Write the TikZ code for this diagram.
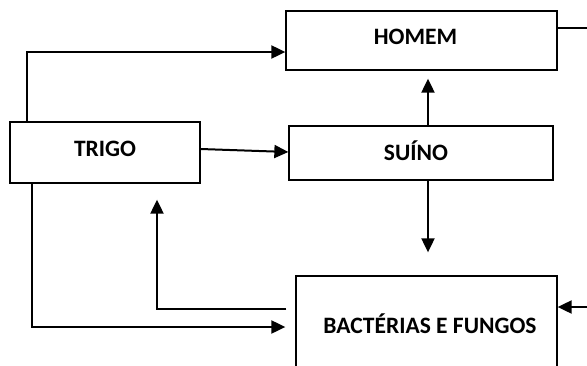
\documentclass[tikz,border=0pt]{standalone}
\usepackage{fontspec}
\setmainfont{Carlito}
\usetikzlibrary{arrows.meta}
\tikzset{
  box/.style={draw=black, line width=1.3pt, fill=white, inner sep=0pt, text height=15pt, text depth=0pt, font=\bfseries\fontsize{23.5}{28}\selectfont},
  conn/.style={line width=2pt},
  arr/.style={conn, -{Triangle[length=14pt,width=13pt]}}
}
\begin{document}
\begin{tikzpicture}[x=1pt,y=-1pt]
\clip (0,0) rectangle (587,365);
\fill[white] (0,0) rectangle (587,365);
\node[box, minimum width=271, minimum height=59] (homem) at (421.5,40.5) {\raisebox{3.5pt}{HOMEM}\hspace*{12pt}};
\node[box, minimum width=264, minimum height=54] (suino) at (421,153) {SUÍNO\hspace*{10pt}};
\node[box, minimum width=190, minimum height=61] (trigo) at (105,152.5) {\raisebox{4pt}{TRIGO}};
\node[box, minimum width=261, minimum height=98] (bact) at (426.5,325) {\hspace*{7pt}\raisebox{-1pt}{BACTÉRIAS E FUNGOS}};
\coordinate (rtop) at (590,28);
\coordinate (rbot) at (590,307);
\draw[arr] ([xshift=18]trigo.north west) |- ([yshift=-11.5]homem.west);
\draw[arr] ([yshift=3.5]trigo.east) -- ([yshift=1]suino.west);
\draw[arr, shorten >=8pt] ([xshift=7]suino.north) -- ([xshift=7]suino.north |- homem.south);
\draw[arr, shorten >=23pt] ([xshift=7]suino.south) -- ([xshift=7]suino.south |- bact.north);
\draw[conn] ([yshift=12.5]homem.east) -- (rtop);
\draw[arr] (rbot) -- ([yshift=18]bact.east);
\draw[arr, shorten >=16pt] ([xshift=-9,yshift=16]bact.west) -| ([xshift=52]trigo.south);
\draw[arr, shorten >=10pt] ([xshift=23]trigo.south west) |- ([yshift=-2]bact.west);
\end{tikzpicture}
\end{document}
